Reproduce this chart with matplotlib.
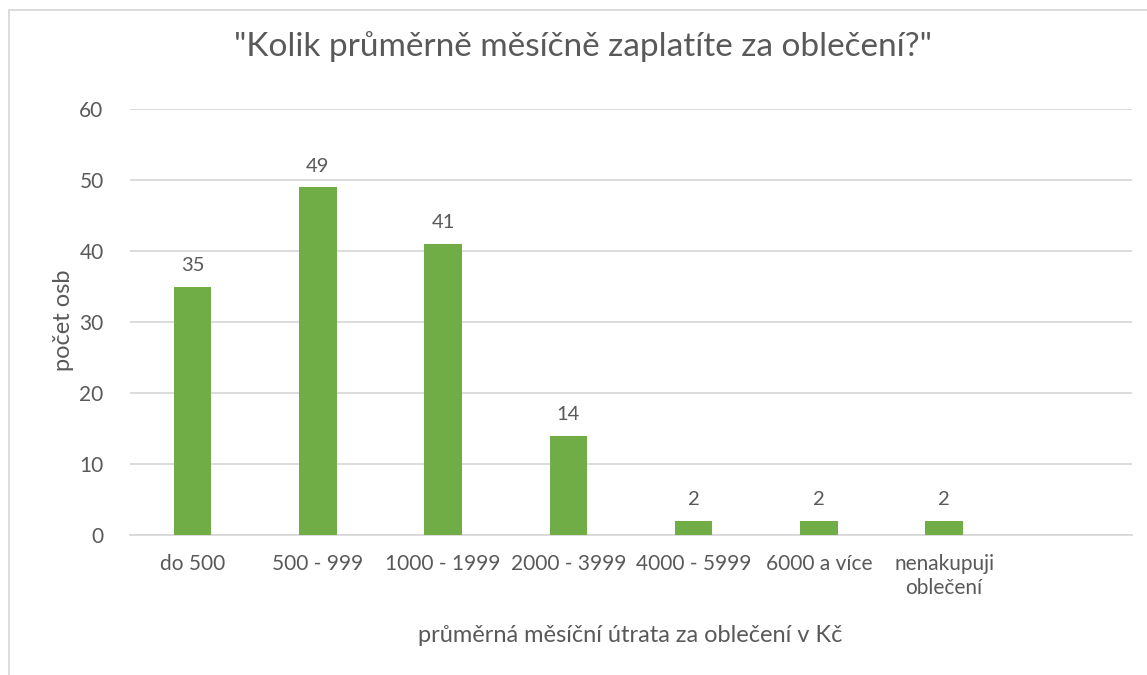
import matplotlib
matplotlib.use("Agg")
import matplotlib.pyplot as plt
from matplotlib.patches import Rectangle

categories = ["do 500", "500 - 999", "1000 - 1999", "2000 - 3999",
              "4000 - 5999", "6000 a více", "nenakupuji\noblečení"]
values = [35, 49, 41, 14, 2, 2, 2]
yticks = [0, 10, 20, 30, 40, 50, 60]

title = '"Kolik průměrně měsíčně zaplatíte za oblečení?"'
xlabel = "průměrná měsíční útrata za oblečení v Kč"
ylabel = "počet osb"

plt.rcParams['font.family'] = ['Lato', 'DejaVu Sans']
text_color = "#595959"
bar_color = "#70AD47"
grid_color = "#D9D9D9"

fig = plt.figure(figsize=(11.47, 6.75), dpi=100)
ax = fig.add_axes([130/1147, 1 - 535/675, (1132 - 130)/1147, (535 - 109)/675])

x = list(range(len(categories)))
bars = ax.bar(x, values, width=0.3, color=bar_color, zorder=3)
for xi, v in zip(x, values):
    ax.annotate(str(v), (xi, v), xytext=(0, 9), textcoords="offset points",
                ha="center", va="bottom", fontsize=14.5, color=text_color)

ax.set_xlim(-0.5, 7.5)
ax.set_ylim(0, 60)
ax.set_yticks(yticks)
ax.set_xticks(x)
ax.set_xticklabels(categories, fontsize=15, color=text_color, linespacing=1.2)
ax.tick_params(axis='y', labelsize=15, labelcolor=text_color, length=0, pad=19)
ax.tick_params(axis='x', length=0, pad=14)
ax.yaxis.grid(True, color=grid_color, linewidth=1.3, zorder=0)
for s in ["top", "right", "left"]:
    ax.spines[s].set_visible(False)
ax.spines["bottom"].set_color(grid_color)
ax.spines["bottom"].set_linewidth(1.3)

fig.text(583/1147, 1 - 47/675, title, ha="center", va="center",
         fontsize=24, color=text_color)
fig.text(630/1147, 1 - 636/675, xlabel, ha="center", va="center",
         fontsize=17, color=text_color)
fig.text(63/1147, 1 - 320/675, ylabel, ha="center", va="center",
         rotation=90, fontsize=17, color=text_color)

fig.patches.append(Rectangle((9/1147, -0.1), 1.2, 1 - 10/675 + 0.1,
                             transform=fig.transFigure, fill=False,
                             edgecolor="#D9D9D9", linewidth=1.3))

fig.savefig("out.png", dpi=100, facecolor="white")
